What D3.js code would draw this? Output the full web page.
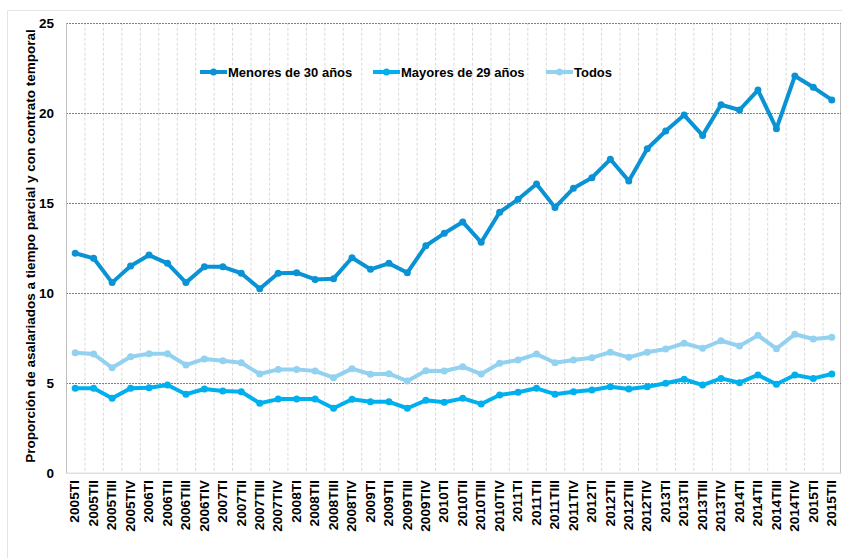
<!DOCTYPE html>
<html><head><meta charset="utf-8">
<script src="https://cdn.jsdelivr.net/npm/d3@7"></script>
<style>body{margin:0;background:#fff;}svg{display:block;font-family:"Liberation Sans",Arial,sans-serif;}</style>
</head><body>
<script>
const categories = ["2005TI","2005TII","2005TIII","2005TIV","2006TI","2006TII","2006TIII","2006TIV","2007TI","2007TII","2007TIII","2007TIV","2008TI","2008TII","2008TIII","2008TIV","2009TI","2009TII","2009TIII","2009TIV","2010TI","2010TII","2010TIII","2010TIV","2011TI","2011TII","2011TIII","2011TIV","2012TI","2012TII","2012TIII","2012TIV","2013TI","2013TII","2013TIII","2013TIV","2014TI","2014TII","2014TIII","2014TIV","2015TI","2015TII"];
const menores = [12.19,11.91,10.56,11.48,12.09,11.63,10.56,11.44,11.44,11.08,10.22,11.08,11.11,10.74,10.78,11.94,11.30,11.63,11.11,12.61,13.30,13.93,12.80,14.47,15.19,16.04,14.74,15.80,16.39,17.41,16.21,18.00,18.98,19.87,18.74,20.44,20.15,21.26,19.11,22.04,21.41,20.71];
const mayores = [4.69,4.69,4.13,4.69,4.72,4.87,4.36,4.65,4.54,4.50,3.86,4.09,4.09,4.09,3.58,4.08,3.94,3.94,3.58,4.02,3.91,4.13,3.82,4.32,4.47,4.69,4.36,4.50,4.59,4.78,4.65,4.78,4.97,5.19,4.87,5.24,5.00,5.43,4.91,5.43,5.24,5.48];
const todos = [6.67,6.59,5.83,6.44,6.61,6.61,5.98,6.32,6.22,6.11,5.48,5.74,5.74,5.65,5.28,5.78,5.47,5.50,5.09,5.67,5.65,5.89,5.48,6.08,6.26,6.59,6.11,6.26,6.39,6.69,6.41,6.69,6.87,7.19,6.91,7.33,7.04,7.63,6.89,7.69,7.43,7.52];
const yTicks = [0,5,10,15,20,25];
const seriesNames = ["Menores de 30 años","Mayores de 29 años","Todos"];
const seriesColors = ["#0a93d4","#00b0ee","#93d1f1"];
const yTitle = "Proporción de asalariados a tiempo parcial y con contrato temporal";

const W=842,H=558;
const svg=d3.select("body").append("svg").attr("width",W).attr("height",H);
// outer border
svg.append("path").attr("d",`M7.5,${H} V10.5 H${W}`).attr("fill","none").attr("stroke","#e4e4e4").attr("stroke-width",1);

const m={l:66,r:841,t:22.7,b:472.7};
const x=d3.scaleBand().domain(categories).range([m.l,m.r]);
const y=d3.scaleLinear().domain([0,25]).range([m.b,m.t]);
const xc=d=>x(d)+x.bandwidth()/2;

// vertical grid (band boundaries)
const g=svg.append("g");
categories.forEach((c,i)=>{ if(i>0) g.append("line").attr("x1",x(c)+0.5).attr("x2",x(c)+0.5).attr("y1",m.t).attr("y2",m.b)
  .attr("stroke","#d9d9d9").attr("stroke-dasharray","3,2").attr("stroke-width",1);});
g.append("line").attr("x1",m.r-0.5).attr("x2",m.r-0.5).attr("y1",m.t).attr("y2",m.b).attr("stroke","#bfbfbf");
// horizontal grid
yTicks.filter(v=>v>0).forEach(v=>g.append("line").attr("x1",m.l).attr("x2",m.r).attr("y1",Math.round(y(v))+0.5).attr("y2",Math.round(y(v))+0.5)
  .attr("stroke","#7f7f8f").attr("stroke-dasharray","2,1").attr("stroke-width",1));

// axes
const ya=svg.append("g").attr("transform",`translate(${m.l},0)`).call(d3.axisLeft(y).tickValues(yTicks).tickSize(0).tickPadding(12));
ya.select(".domain").attr("stroke","#bfbfbf");
ya.selectAll("text").attr("font-size","13.5px").attr("font-weight","bold").attr("fill","#000").attr("font-family","Liberation Sans, Arial, sans-serif");
const xa=svg.append("g").attr("transform",`translate(0,${m.b})`).call(d3.axisBottom(x).tickSize(0));
xa.select(".domain").attr("stroke","#d0d0d0");
xa.selectAll("text").attr("font-size","12px").attr("font-weight","bold").attr("fill","#000").attr("font-family","Liberation Sans, Arial, sans-serif")
  .attr("transform","rotate(-90) scale(1.14,1)").attr("text-anchor","end").attr("dy","0.35em").attr("x",-6.5).attr("y",0);

svg.append("text").attr("transform",`translate(35,246) rotate(-90)`).attr("text-anchor","middle")
  .attr("font-size","13.5px").attr("font-weight","bold").text(yTitle);

// series
const data=[menores,mayores,todos];
const line=d3.line().x((d,i)=>xc(categories[i])).y(d=>y(d));
[2,1,0].forEach(k=>{
  const s=svg.append("g");
  s.append("path").datum(data[k]).attr("d",line).attr("fill","none").attr("stroke",seriesColors[k]).attr("stroke-width",4).attr("stroke-linejoin","round");
  s.selectAll("circle").data(data[k]).join("circle").attr("cx",(d,i)=>xc(categories[i])).attr("cy",d=>y(d)).attr("r",3.5).attr("fill",seriesColors[k]);
});

// legend
const lx=[200,373,546];
seriesNames.forEach((n,k)=>{
  const lg=svg.append("g").attr("transform",`translate(${lx[k]},72)`);
  lg.append("line").attr("x1",0).attr("x2",27).attr("stroke",seriesColors[k]).attr("stroke-width",4);
  lg.append("circle").attr("cx",13.5).attr("r",3.5).attr("fill",seriesColors[k]);
  lg.append("text").attr("x",28).attr("dy","0.35em").attr("font-size","13px").attr("font-weight","bold").text(n);
});
</script>
</body></html>
